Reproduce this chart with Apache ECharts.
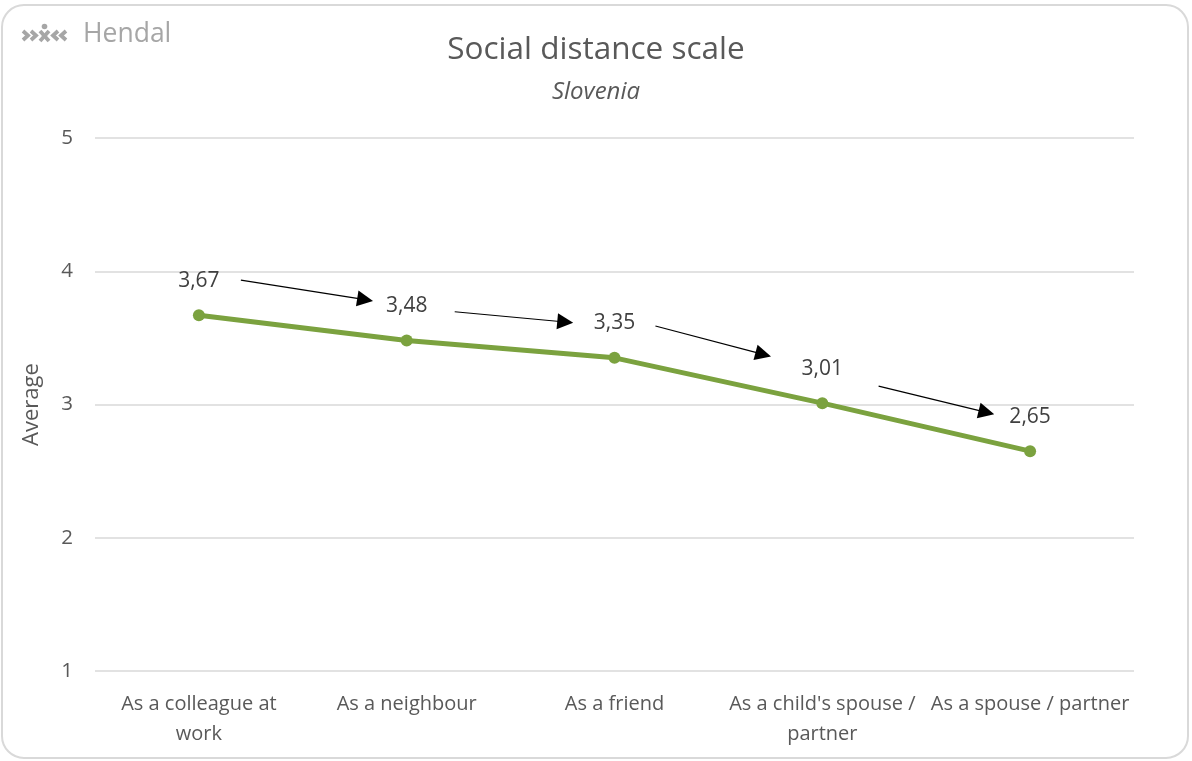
<!DOCTYPE html>
<html>
<head>
<meta charset="utf-8">
<script src="https://cdn.jsdelivr.net/npm/echarts@6/dist/echarts.min.js"></script>
<style>
html,body{margin:0;padding:0;background:#fff;}
#chart{width:1192px;height:761px;}
</style>
</head>
<body>
<div id="chart"></div>
<script>
const categories = ["As a colleague at work", "As a neighbour", "As a friend", "As a child's spouse / partner", "As a spouse / partner"];
const categoryTickLabels = ["As a colleague at\nwork", "As a neighbour", "As a friend", "As a child's spouse /\npartner", "As a spouse / partner"];
const averages = [3.67, 3.48, 3.35, 3.01, 2.65];
const yTicks = [1, 2, 3, 4, 5];
// arrow annotations: [from [categoryPosition, value], to [categoryPosition, value]]
const arrowStarts = [[0.202, 3.934], [1.231, 3.696], [2.197, 3.589], [3.271, 3.138]];
const arrowEnds = [[0.800, 3.787], [1.763, 3.619], [2.716, 3.376], [3.790, 2.941]];

const FONT = '"Open Sans", Lato, sans-serif';
const GREY = '#a6a6a6';
const chart = echarts.init(document.getElementById('chart'), null, {renderer: 'canvas'});

const arrowData = arrowStarts.map((s, i) => ({coords: [s, arrowEnds[i]]}));

const chev = (pts) => ({
  type: 'polyline',
  shape: {points: pts},
  style: {stroke: GREY, lineWidth: 3.8, fill: 'none', lineJoin: 'miter'}
});

chart.setOption({
  backgroundColor: '#ffffff',
  animation: false,
  title: [{
    text: 'Social distance scale',
    left: 'center',
    top: 29,
    textStyle: {fontFamily: FONT, fontSize: 31.5, fontWeight: 'normal', color: '#595959'}
  }, {
    text: 'Slovenia',
    left: 'center',
    top: 75,
    textStyle: {fontFamily: FONT, fontSize: 24, fontStyle: 'italic', fontWeight: 'normal', color: '#595959'}
  }],
  graphic: [{
    type: 'rect',
    shape: {x: 2, y: 5, width: 1186, height: 753, r: 22},
    style: {fill: 'none', stroke: '#d9d9d9', lineWidth: 2},
    silent: true
  },
  chev([[23, 31], [28, 35.5], [23, 40]]),
  chev([[31, 31], [36, 35.5], [31, 40]]),
  {
    type: 'line',
    shape: {x1: 40, y1: 31, x2: 49, y2: 41},
    style: {stroke: GREY, lineWidth: 3.8}
  }, {
    type: 'line',
    shape: {x1: 49, y1: 31, x2: 40, y2: 41},
    style: {stroke: GREY, lineWidth: 3.8}
  }, {
    type: 'circle',
    shape: {cx: 44.5, cy: 26.5, r: 2.8},
    style: {fill: GREY}
  },
  chev([[58, 31], [53, 35.5], [58, 40]]),
  chev([[66, 31], [61, 35.5], [66, 40]]),
  {
    type: 'text',
    left: 83, top: 21,
    style: {text: 'Hendal', font: '26.5px ' + FONT, fill: GREY}
  }],
  grid: {left: 95, right: 58, top: 138, bottom: 90, containLabel: false},
  xAxis: [{
    type: 'category',
    data: categories,
    boundaryGap: true,
    axisLine: {show: false},
    axisTick: {show: false},
    axisLabel: {
      interval: 0,
      fontFamily: FONT, fontSize: 20, color: '#595959',
      margin: 18, lineHeight: 30,
      formatter: (v, i) => categoryTickLabels[i]
    }
  }, {
    type: 'value',
    min: -0.5, max: 4.5,
    show: false
  }],
  yAxis: {
    type: 'value',
    min: yTicks[0], max: yTicks[yTicks.length - 1], interval: 1,
    name: 'Average',
    nameLocation: 'middle',
    nameGap: 52,
    nameRotate: 90,
    nameTextStyle: {fontFamily: FONT, fontSize: 22, color: '#595959'},
    axisLine: {show: false},
    axisTick: {show: false},
    axisLabel: {fontFamily: FONT, fontSize: 20.5, color: '#595959', margin: 22},
    splitLine: {lineStyle: {color: '#d9d9d9', width: 1.5}}
  },
  series: [{
    type: 'line',
    data: averages,
    xAxisIndex: 0,
    symbol: 'circle',
    symbolSize: 12,
    itemStyle: {color: '#7ba23f'},
    lineStyle: {color: '#7ba23f', width: 5},
    label: {
      show: true, position: 'top', distance: 18,
      fontFamily: FONT, fontSize: 21, color: '#404040',
      formatter: p => p.value.toFixed(2).replace('.', ',')
    },
    z: 3
  }, {
    type: 'lines',
    coordinateSystem: 'cartesian2d',
    xAxisIndex: 1,
    yAxisIndex: 0,
    data: arrowData,
    symbol: ['none', 'triangle'],
    symbolSize: 16,
    lineStyle: {color: '#000000', width: 1.2, opacity: 1},
    silent: true,
    z: 4
  }]
});
</script>
</body>
</html>
